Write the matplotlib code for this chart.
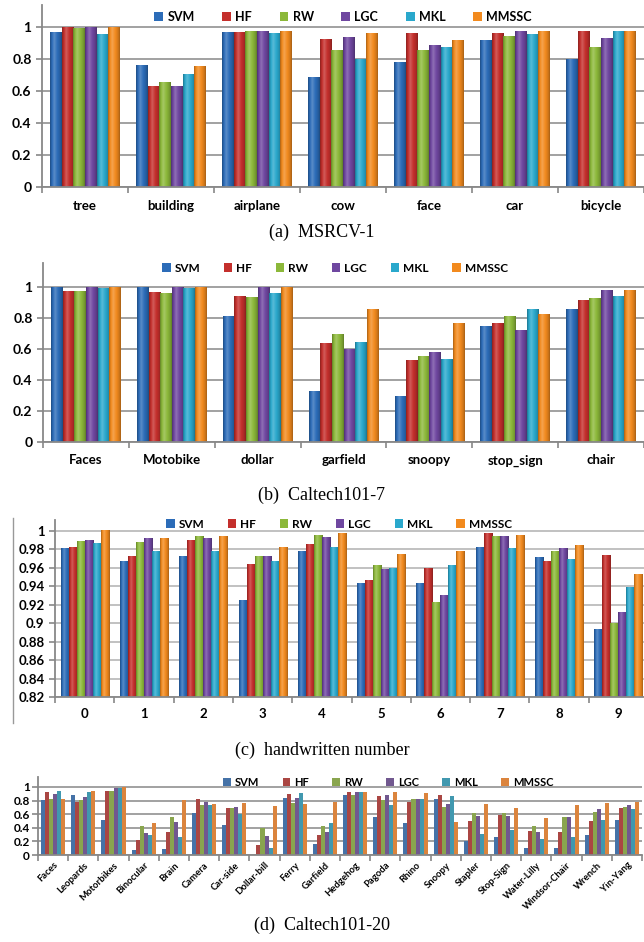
import numpy as np
import matplotlib.pyplot as plt
from matplotlib.lines import Line2D

plt.rcParams['font.family'] = ['Lato', 'DejaVu Sans']
plt.rcParams['font.weight'] = 'bold'

methods = ['SVM', 'HF', 'RW', 'LGC', 'MKL', 'MMSSC']
shaded_colors = ['#2c6cb8', '#c42f2c', '#8cb83a', '#6f47a0', '#2aa8cc', '#f28a1e']
flat_colors = ['#4572a7', '#aa4643', '#89a54e', '#71588f', '#4198af', '#db843d']

# (a) MSRCV-1
msrc_cats = ['tree', 'building', 'airplane', 'cow', 'face', 'car', 'bicycle']
msrc_svm = [0.967, 0.758, 0.967, 0.683, 0.777, 0.917, 0.800]
msrc_hf = [0.998, 0.627, 0.967, 0.925, 0.958, 0.958, 0.969]
msrc_rw = [0.990, 0.652, 0.975, 0.852, 0.852, 0.942, 0.875]
msrc_lgc = [0.998, 0.627, 0.975, 0.933, 0.885, 0.969, 0.927]
msrc_mkl = [0.952, 0.702, 0.962, 0.800, 0.875, 0.954, 0.969]
msrc_mmssc = [0.998, 0.752, 0.975, 0.958, 0.915, 0.971, 0.969]

# (b) Caltech101-7
c7_cats = ['Faces', 'Motobike', 'dollar', 'garfield', 'snoopy', 'stop_sign', 'chair']
c7_svm = [1.000, 1.000, 0.810, 0.327, 0.294, 0.746, 0.854]
c7_hf = [0.971, 0.965, 0.939, 0.634, 0.525, 0.763, 0.916]
c7_rw = [0.971, 0.961, 0.933, 0.692, 0.555, 0.813, 0.925]
c7_lgc = [1.000, 1.000, 1.000, 0.600, 0.581, 0.720, 0.981]
c7_mkl = [0.995, 0.991, 0.959, 0.643, 0.531, 0.854, 0.942]
c7_mmssc = [1.000, 1.000, 1.000, 0.856, 0.768, 0.823, 0.981]

# (c) handwritten number
digit_cats = ['0', '1', '2', '3', '4', '5', '6', '7', '8', '9']
digit_svm = [0.981, 0.967, 0.972, 0.924, 0.978, 0.943, 0.943, 0.982, 0.971, 0.893]
digit_hf = [0.982, 0.972, 0.989, 0.963, 0.985, 0.946, 0.959, 0.997, 0.967, 0.973]
digit_rw = [0.988, 0.987, 0.994, 0.972, 0.995, 0.962, 0.922, 0.994, 0.978, 0.900]
digit_lgc = [0.989, 0.992, 0.992, 0.972, 0.993, 0.958, 0.930, 0.994, 0.981, 0.911]
digit_mkl = [0.986, 0.977, 0.978, 0.967, 0.982, 0.959, 0.962, 0.981, 0.969, 0.939]
digit_mmssc = [1.000, 0.992, 0.994, 0.982, 0.997, 0.974, 0.977, 0.995, 0.984, 0.953]

# (d) Caltech101-20
c20_cats = ['Faces', 'Leopards', 'Motorbikes', 'Binocular', 'Brain', 'Camera', 'Car-side',
            'Dollar-bill', 'Ferry', 'Garfield', 'Hedgehog', 'Pagoda', 'Rhino', 'Snoopy',
            'Stapler', 'Stop-Sign', 'Water-Lilly', 'Windsor-Chair', 'Wrench', 'Yin-Yang']
c20_svm = [0.81, 0.888, 0.517, 0.073, 0.083, 0.62, 0.439, 0.0, 0.844, 0.166,
           0.888, 0.561, 0.463, 0.83, 0.205, 0.263, 0.107, 0.107, 0.298, 0.512]
c20_hf = [0.93, 0.776, 0.946, 0.22, 0.337, 0.82, 0.693, 0.151, 0.893, 0.293,
          0.932, 0.873, 0.776, 0.878, 0.493, 0.585, 0.351, 0.332, 0.502, 0.688]
c20_rw = [0.83, 0.815, 0.937, 0.424, 0.551, 0.737, 0.693, 0.40, 0.766, 0.424,
          0.878, 0.815, 0.82, 0.707, 0.61, 0.61, 0.424, 0.551, 0.639, 0.707]
c20_lgc = [0.90, 0.859, 0.985, 0.317, 0.483, 0.78, 0.707, 0.278, 0.834, 0.332,
           0.932, 0.878, 0.83, 0.751, 0.576, 0.571, 0.341, 0.551, 0.673, 0.737]
c20_mkl = [0.946, 0.927, 0.98, 0.288, 0.259, 0.73, 0.60, 0.102, 0.912, 0.473,
           0.932, 0.732, 0.83, 0.863, 0.312, 0.366, 0.229, 0.263, 0.512, 0.683]
c20_mmssc = [0.824, 0.937, 1.0, 0.468, 0.805, 0.746, 0.766, 0.717, 0.746, 0.785,
             0.932, 0.932, 0.912, 0.488, 0.746, 0.693, 0.537, 0.741, 0.766, 0.776]

W, H = 644, 942
fig = plt.figure(figsize=(W / 100, H / 100), dpi=100)


def px_axes(left, right, top, bottom):
    return fig.add_axes([left / W, 1 - bottom / H, (right - left) / W, (bottom - top) / H])


def shade(color, f):
    c = np.array(plt.matplotlib.colors.to_rgb(color))
    if f >= 1:
        return c + (1 - c) * (f - 1)
    return c * f


# horizontal light profile across a bar (Excel-ish bevel)
prof_t = np.array([0.0, 0.12, 0.35, 0.6, 0.88, 1.0])
prof_f = np.array([0.72, 0.95, 1.22, 1.02, 0.85, 0.7])


def add_gradient(ax, bars, color):
    t = np.linspace(0, 1, 24)
    f = np.interp(t, prof_t, prof_f)
    img = np.array([[shade(color, v) for v in f]])
    for r in bars:
        x0, w, h = r.get_x(), r.get_width(), r.get_height()
        ax.imshow(img, extent=(x0, x0 + w, 0, h), aspect='auto', zorder=2.5,
                  interpolation='bilinear')


def draw_panel(ax, cats, series, colors, ylim, yticks, ylabels, shaded, group=0.81):
    n = len(cats)
    x = np.arange(n)
    w = group / len(series)
    for i, (vals, col, name) in enumerate(zip(series, colors, methods)):
        bars = ax.bar(x + (i - 2.5) * w, vals, w, color=col, label=name, zorder=2,
                      linewidth=0)
        if shaded:
            add_gradient(ax, bars, col)
    ax.set_xlim(-0.5, n - 0.5)
    ax.set_ylim(*ylim)
    ax.set_yticks(yticks)
    ax.set_yticklabels(ylabels)
    ax.set_xticks(np.arange(n + 1) - 0.5)
    ax.set_xticklabels([])
    ax.set_xticks(x, minor=True)
    ax.tick_params(axis='x', which='major', length=4, width=1.2, color='#888888', direction='out')
    ax.tick_params(axis='x', which='minor', length=0)
    ax.tick_params(axis='y', length=4, width=1.2, color='#888888', direction='out')
    ax.grid(axis='y', color='#9a9a9a', linewidth=1.3)
    ax.set_axisbelow(True)
    for s in ['top', 'right']:
        ax.spines[s].set_visible(False)
    for s in ['left', 'bottom']:
        ax.spines[s].set_color('#888888')
        ax.spines[s].set_linewidth(1.3)


def add_legend(ax, bx, by, fs=9, cs=2.2):
    ax.legend(loc='center', bbox_to_anchor=(bx, by), ncol=6, frameon=False, fontsize=fs,
              handlelength=0.7, handleheight=0.7, handletextpad=0.35, columnspacing=cs,
              borderpad=0, borderaxespad=0)


def caption(text, y):
    fig.text(0.5, 1 - y / H, text, ha='center', va='center', fontsize=13,
             family='Liberation Serif', fontweight='normal')


ticks01 = [0, 0.2, 0.4, 0.6, 0.8, 1.0]
labels01 = ['0', '0.2', '0.4', '0.6', '0.8', '1']

# (a)
ax_a = px_axes(42, 644, 5, 187)
draw_panel(ax_a, msrc_cats, [msrc_svm, msrc_hf, msrc_rw, msrc_lgc, msrc_mkl, msrc_mmssc],
           shaded_colors, (0, 1.1375), ticks01, labels01, True)
ax_a.set_xticklabels(msrc_cats, minor=True, fontsize=9.5)
ax_a.tick_params(axis='x', which='minor', pad=9)
ax_a.tick_params(axis='y', labelsize=10)
add_legend(ax_a, 0.5, 0.934)
caption('(a)  MSRCV-1', 232)

# (b)
ax_b = px_axes(43, 644, 263, 442)
draw_panel(ax_b, c7_cats, [c7_svm, c7_hf, c7_rw, c7_lgc, c7_mkl, c7_mmssc],
           shaded_colors, (0, 1.157), ticks01, labels01, True)
ax_b.set_xticklabels(c7_cats, minor=True, fontsize=9.5)
ax_b.tick_params(axis='x', which='minor', pad=9)
ax_b.tick_params(axis='y', labelsize=10)
add_legend(ax_b, 0.486, 0.972, fs=8.5, cs=2.0)
caption('(b)  Caltech101-7', 495)

# (c)
ax_c = px_axes(55, 648, 520, 697)
digit_ticks = [0.82, 0.84, 0.86, 0.88, 0.9, 0.92, 0.94, 0.96, 0.98, 1.0]
digit_tick_labels = ['0.82', '0.84', '0.86', '0.88', '0.9', '0.92', '0.94', '0.96', '0.98', '1']
draw_panel(ax_c, digit_cats, [digit_svm, digit_hf, digit_rw, digit_lgc, digit_mkl, digit_mmssc],
           shaded_colors, (0.82, 1.0116), digit_ticks, digit_tick_labels, True, group=0.81)
ax_c.set_xticklabels(digit_cats, minor=True, fontsize=9.5)
ax_c.tick_params(axis='x', which='minor', pad=8)
ax_c.tick_params(axis='y', labelsize=9.5)
ax_c.grid(axis='y', color='#b0b0b0', linewidth=1.1)
add_legend(ax_c, 0.479, 0.977, fs=8.5, cs=2.0)
caption('(c)  handwritten number', 750)
fig.add_artist(Line2D([13 / W, 13 / W], [1 - 723 / H, 1 - 518 / H], transform=fig.transFigure,
                      color='#999999', linewidth=1.0))

# (d)
ax_d = px_axes(38, 642, 777, 855)
draw_panel(ax_d, c20_cats, [c20_svm, c20_hf, c20_rw, c20_lgc, c20_mkl, c20_mmssc],
           flat_colors, (0, 1.146), ticks01, labels01, False, group=0.80)
ax_d.set_xticklabels(c20_cats, minor=True, fontsize=6.8, rotation=45, ha='right',
                     rotation_mode='anchor')
ax_d.tick_params(axis='x', which='minor', pad=4)
ax_d.tick_params(axis='y', labelsize=8.5, pad=2)
add_legend(ax_d, 0.58, 0.93, fs=8, cs=2.1)
caption('(d)  Caltech101-20', 925)

fig.savefig('out.png', dpi=100)
